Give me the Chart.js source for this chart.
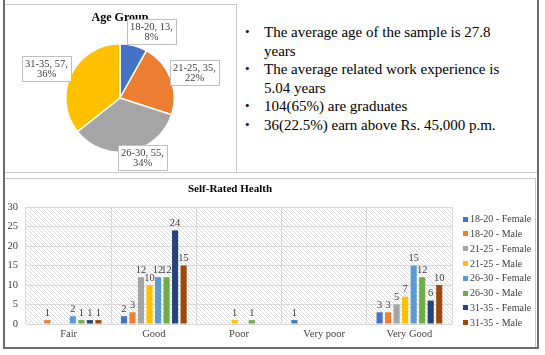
<!DOCTYPE html>
<html>
<head>
<meta charset="utf-8">
<script src="https://cdn.jsdelivr.net/npm/chart.js@4.4.1/dist/chart.umd.min.js"></script>
<style>
html,body{margin:0;padding:0;background:#fff;width:545px;height:355px;overflow:hidden;font-family:"Liberation Serif","Times New Roman",serif;}
.ln{position:absolute;background:#6b6b6b;}
#pieBox{position:absolute;left:4px;top:4px;width:231px;height:167px;border:1px solid #c8c8c8;box-sizing:content-box;}
#sep{position:absolute;left:4px;top:172px;width:533px;height:1px;background:#c8c8c8;}
#barBox{position:absolute;left:4px;top:178px;width:530px;height:168px;border:1px solid #c8c8c8;}
#pieCanvasWrap{position:absolute;left:5px;top:5px;width:230px;height:166px;}
#barCanvasWrap{position:absolute;left:5px;top:179px;width:529px;height:167px;}
#notes{position:absolute;left:264px;top:23px;font-size:15px;line-height:18.6px;color:#000;white-space:nowrap;}
#notes div{position:relative;}
#notes div::before{content:"\2022";position:absolute;left:-19px;top:0;font-size:13px;}
</style>
</head>
<body>
<div id="pieBox"></div>
<div id="sep"></div>
<div id="barBox"></div>
<div class="ln" style="left:3px;top:0;width:2px;height:349px;"></div>
<div class="ln" style="left:537px;top:0;width:2px;height:349px;"></div>
<div class="ln" style="left:3px;top:347px;width:536px;height:2px;"></div>
<div id="pieCanvasWrap"><canvas id="pie" width="230" height="166"></canvas></div>
<div id="barCanvasWrap"><canvas id="bar" width="529" height="167"></canvas></div>
<div id="notes">
<div>The average age of the sample is 27.8<br>years</div>
<div>The average related work experience is<br>5.04 years</div>
<div>104(65%) are graduates</div>
<div>36(22.5%) earn above Rs. 45,000 p.m.</div>
</div>
<script>
// ---------- data ----------
const ageGroups = ["18-20", "21-25", "26-30", "31-35"];
const ageCounts = [13, 35, 55, 57];

const healthCategories = ["Fair", "Good", "Poor", "Very poor", "Very Good"];
const seriesNames = ["18-20 - Female", "18-20 - Male", "21-25 - Female", "21-25 - Male",
                     "26-30 - Female", "26-30 - Male", "31-35 - Female", "31-35 - Male"];
const female1820 = [0, 2, 0, 1, 3];
const male1820   = [1, 3, 0, 0, 3];
const female2125 = [0, 12, 0, 0, 5];
const male2125   = [0, 10, 1, 0, 7];
const female2630 = [2, 12, 0, 0, 15];
const male2630   = [1, 12, 1, 0, 12];
const female3135 = [1, 24, 0, 0, 6];
const male3135   = [1, 15, 0, 0, 10];
const yTicks = [0, 5, 10, 15, 20, 25, 30];

// ---------- styles ----------
const pieColors = ["#4472C4", "#ED7D31", "#A5A5A5", "#FFC000"];
const barColors = ["#4472C4", "#ED7D31", "#A5A5A5", "#FFC000", "#5B9BD5", "#70AD47", "#264478", "#9E480E"];
const SERIF = "'Liberation Serif','Times New Roman',serif";

// ---------- pie ----------
const calloutPlugin = {
  id: 'callouts',
  afterDatasetsDraw(chart, args, opts) {
    const meta = chart.getDatasetMeta(0);
    const ds = chart.data.datasets[0];
    const total = ds.data.reduce((a, b) => a + b, 0);
    const ctx = chart.ctx;
    ctx.save();
    ctx.font = opts.font;
    ctx.textAlign = 'center';
    ctx.textBaseline = 'middle';
    meta.data.forEach((arc, i) => {
      const p = arc.getProps(['x', 'y', 'startAngle', 'endAngle', 'outerRadius'], true);
      const mid = (p.startAngle + p.endAngle) / 2;
      const d = p.outerRadius * opts.distance;
      const cx = p.x + Math.cos(mid) * d + opts.nudge[i][0];
      const cy = p.y + Math.sin(mid) * d + opts.nudge[i][1];
      const l1 = chart.data.labels[i] + ', ' + ds.data[i] + ',';
      const l2 = Math.round(ds.data[i] / total * 100) + '%';
      const w = Math.round(Math.max(ctx.measureText(l1).width, ctx.measureText(l2).width) + 6);
      const h = Math.round(2 * opts.lineH + 4);
      const bx = Math.round(cx - w / 2), by = Math.round(cy - h / 2);
      ctx.fillStyle = '#fff';
      ctx.fillRect(bx, by, w, h);
      ctx.strokeStyle = '#bfbfbf';
      ctx.lineWidth = 1;
      ctx.strokeRect(bx + 0.5, by + 0.5, w, h);
      ctx.fillStyle = '#404040';
      ctx.fillText(l1, bx + w / 2, by + h / 2 - opts.lineH / 2 + 0.5);
      ctx.fillText(l2, bx + w / 2, by + h / 2 + opts.lineH / 2 + 0.5);
    });
    ctx.restore();
  }
};

new Chart(document.getElementById('pie'), {
  type: 'pie',
  data: {
    labels: ageGroups,
    datasets: [{ data: ageCounts, backgroundColor: pieColors, borderColor: '#fff', borderWidth: 1.5 }]
  },
  options: {
    responsive: false,
    animation: false,
    layout: { padding: { left: 60, right: 60, top: 0, bottom: 18 } },
    plugins: {
      legend: { display: false },
      tooltip: { enabled: false },
      title: {
        display: true, text: 'Age Group', color: '#000',
        font: { family: SERIF, size: 12, weight: 'bold' },
        padding: { top: 6, bottom: 17.6 }
      },
      callouts: {
        font: "10.5px " + SERIF,
        lineH: 10.5,
        distance: 1.38,
        nudge: [[13, 6], [5, 2], [9, -14], [-6, 3]]
      }
    }
  },
  plugins: [calloutPlugin]
});

// ---------- bar ----------
function makeHatch() {
  const c = document.createElement('canvas');
  c.width = 4; c.height = 4;
  const g = c.getContext('2d');
  g.fillStyle = '#ffffff';
  g.fillRect(0, 0, 4, 4);
  g.fillStyle = '#dadada';
  for (let i = 0; i < 4; i++) g.fillRect(i, i, 1, 1);
  return c;
}
const hatchPlugin = {
  id: 'hatchBg',
  beforeDraw(chart) {
    const a = chart.chartArea, ctx = chart.ctx;
    ctx.save();
    ctx.fillStyle = ctx.createPattern(makeHatch(), 'repeat');
    ctx.fillRect(a.left, a.top, a.right - a.left, a.bottom - a.top);
    ctx.restore();
  }
};
const valueLabelPlugin = {
  id: 'valueLabels',
  afterDatasetsDraw(chart, args, opts) {
    const ctx = chart.ctx;
    ctx.save();
    ctx.font = opts.font;
    ctx.fillStyle = '#404040';
    ctx.textAlign = 'center';
    ctx.textBaseline = 'bottom';
    chart.data.datasets.forEach((ds, di) => {
      chart.getDatasetMeta(di).data.forEach((el, i) => {
        const v = ds.data[i];
        if (!v) return;
        ctx.fillText(String(v), el.x, el.y - 2);
      });
    });
    ctx.restore();
  }
};
const sideLegendPlugin = {
  id: 'sideLegend',
  afterDraw(chart, args, opts) {
    const ctx = chart.ctx;
    ctx.save();
    ctx.font = opts.font;
    ctx.textBaseline = 'middle';
    ctx.textAlign = 'left';
    chart.data.datasets.forEach((ds, i) => {
      const y = chart.chartArea.top + opts.offsetTop + i * opts.step;
      const x = chart.chartArea.right + opts.offsetLeft;
      ctx.fillStyle = ds.backgroundColor;
      ctx.fillRect(x, Math.round(y - 2.5), 5, 5);
      ctx.fillStyle = '#404040';
      ctx.fillText(ds.label, x + 7, y + 0.5);
    });
    ctx.restore();
  }
};

const seriesValues = [female1820, male1820, female2125, male2125, female2630, male2630, female3135, male3135];
new Chart(document.getElementById('bar'), {
  type: 'bar',
  data: {
    labels: healthCategories,
    datasets: seriesNames.map((n, i) => ({
      label: n, data: seriesValues[i], backgroundColor: barColors[i],
      categoryPercentage: 0.8, barPercentage: 0.72
    }))
  },
  options: {
    responsive: false,
    animation: false,
    layout: { padding: { left: 3, right: 82, top: 0, bottom: 4 } },
    scales: {
      x: {
        grid: { color: '#d9d9d9', offset: true, drawTicks: false },
        border: { display: true, color: '#d9d9d9' },
        ticks: { color: '#404040', font: { family: SERIF, size: 10.5 }, padding: 4 },
        afterFit(s) { s.height = 18; }
      },
      y: {
        min: 0, max: 30,
        grid: { color: '#d9d9d9', drawTicks: false },
        border: { display: false },
        afterBuildTicks(s) { s.ticks = yTicks.map(v => ({ value: v })); },
        ticks: { color: '#404040', font: { family: SERIF, size: 10.5 }, padding: 8 },
        afterFit(s) { s.width = 18; }
      }
    },
    plugins: {
      legend: { display: false },
      tooltip: { enabled: false },
      title: {
        display: true, text: 'Self-Rated Health', color: '#000',
        font: { family: SERIF, size: 11, weight: 'bold' },
        padding: { top: 4, bottom: 10.8 }
      },
      valueLabels: { font: "10.5px " + SERIF },
      sideLegend: { font: "10px " + SERIF, offsetLeft: 11, offsetTop: 12, step: 14.8 }
    }
  },
  plugins: [hatchPlugin, valueLabelPlugin, sideLegendPlugin]
});
</script>
</body>
</html>
